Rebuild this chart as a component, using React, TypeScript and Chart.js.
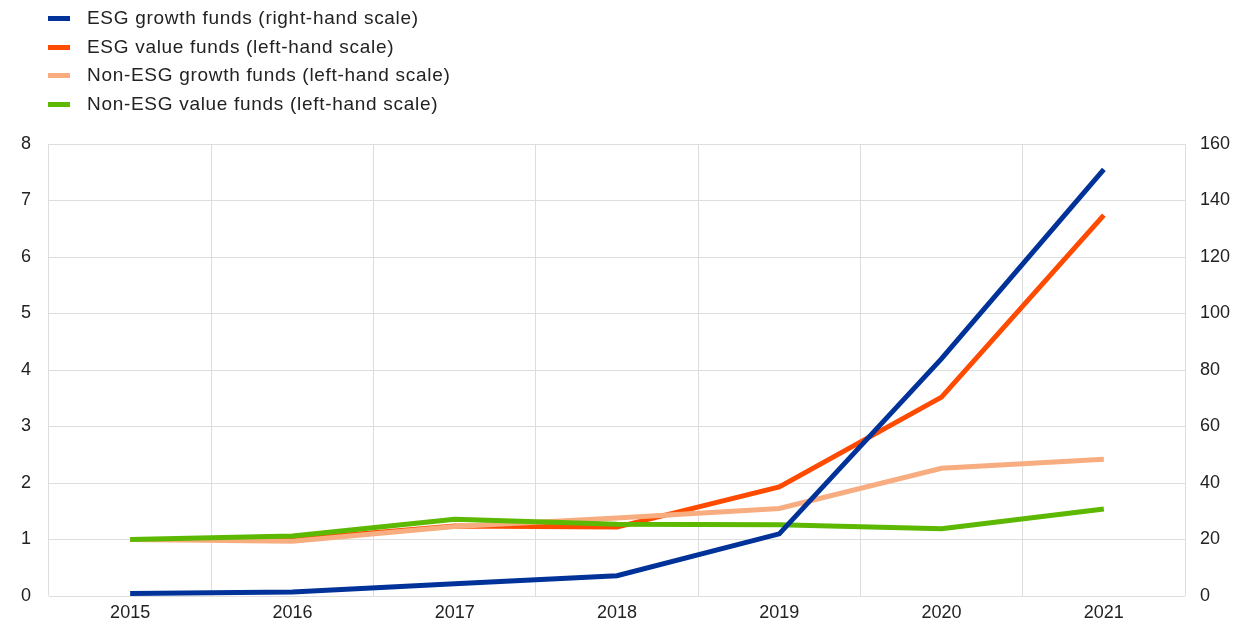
import React, { useEffect, useRef } from "react";
import { Chart, registerables } from "chart.js";

Chart.register(...registerables);

const years = ["2015", "2016", "2017", "2018", "2019", "2020", "2021"];
const esgGrowth = [0.9, 1.4, 4.3, 7.2, 22, 84, 151];
const esgValue = [1.0, 1.0, 1.24, 1.22, 1.93, 3.52, 6.74];
const nonEsgGrowth = [1.0, 0.97, 1.23, 1.38, 1.55, 2.26, 2.42];
const nonEsgValue = [1.0, 1.06, 1.36, 1.27, 1.26, 1.19, 1.54];

const labels = [
  "ESG growth funds (right-hand scale)",
  "ESG value funds (left-hand scale)",
  "Non-ESG growth funds (left-hand scale)",
  "Non-ESG value funds (left-hand scale)",
];
const colors = ["#003299", "#ff4b00", "#f8ad80", "#5cb800"];

const FONT = "'Liberation Sans', Arial, sans-serif";

export default function App() {
  const ref = useRef<HTMLCanvasElement>(null);
  useEffect(() => {
    document.body.style.margin = "0";
    const ctx = ref.current!;
    const chart = new Chart(ctx, {
      type: "line",
      data: {
        labels: years,
        datasets: [
          { label: labels[0], data: esgGrowth, borderColor: colors[0], backgroundColor: colors[0], yAxisID: "y1", order: 0 },
          { label: labels[1], data: esgValue, borderColor: colors[1], backgroundColor: colors[1], yAxisID: "y", order: 3 },
          { label: labels[2], data: nonEsgGrowth, borderColor: colors[2], backgroundColor: colors[2], yAxisID: "y", order: 2 },
          { label: labels[3], data: nonEsgValue, borderColor: colors[3], backgroundColor: colors[3], yAxisID: "y", order: 1 },
        ].map((d) => ({ ...d, borderWidth: 5, pointRadius: 0, tension: 0, fill: false })),
      },
      options: {
        animation: false,
        responsive: false,
        maintainAspectRatio: false,
        layout: { padding: { top: 144, left: 0, right: 0, bottom: 0 } },
        plugins: { legend: { display: false }, tooltip: { enabled: false } },
        scales: {
          x: {
            offset: true,
            grid: { offset: true, color: "#dedede", lineWidth: 1, drawTicks: false },
            border: { display: false },
            ticks: { color: "#222", font: { family: FONT, size: 18 }, padding: 6, maxRotation: 0 },
            afterFit: (s: any) => { s.height = 33; },
          },
          y: {
            position: "left",
            min: 0,
            max: 8,
            grid: { color: "#dedede", lineWidth: 1, drawTicks: false },
            border: { display: false },
            ticks: { stepSize: 1, color: "#222", font: { family: FONT, size: 18 }, padding: 18 },
            afterFit: (s: any) => { s.width = 49; },
          },
          y1: {
            position: "right",
            min: 0,
            max: 160,
            grid: { display: false, drawTicks: false },
            border: { display: false },
            ticks: { stepSize: 20, color: "#222", font: { family: FONT, size: 18 }, padding: 15 },
            afterFit: (s: any) => { s.width = 59; },
          },
        },
      },
    });
    return () => chart.destroy();
  }, []);

  return (
    <div style={{ position: "absolute", left: 0, top: 0, width: 1244, height: 629, background: "#fff" }}>
      <canvas ref={ref} width={1244} height={629} style={{ position: "absolute", left: 0, top: 0 }} />
      {labels.map((l, i) => (
        <div key={l} style={{ position: "absolute", left: 0, top: 18 + i * 28.7 - 12, height: 24, width: 700 }}>
          <div style={{ position: "absolute", left: 48, top: 10, width: 22, height: 5, background: colors[i] }} />
          <div style={{ position: "absolute", left: 87, top: 0, lineHeight: "24px", fontFamily: FONT, fontSize: 19, letterSpacing: 0.7, color: "#222", whiteSpace: "nowrap" }}>{l}</div>
        </div>
      ))}
    </div>
  );
}
